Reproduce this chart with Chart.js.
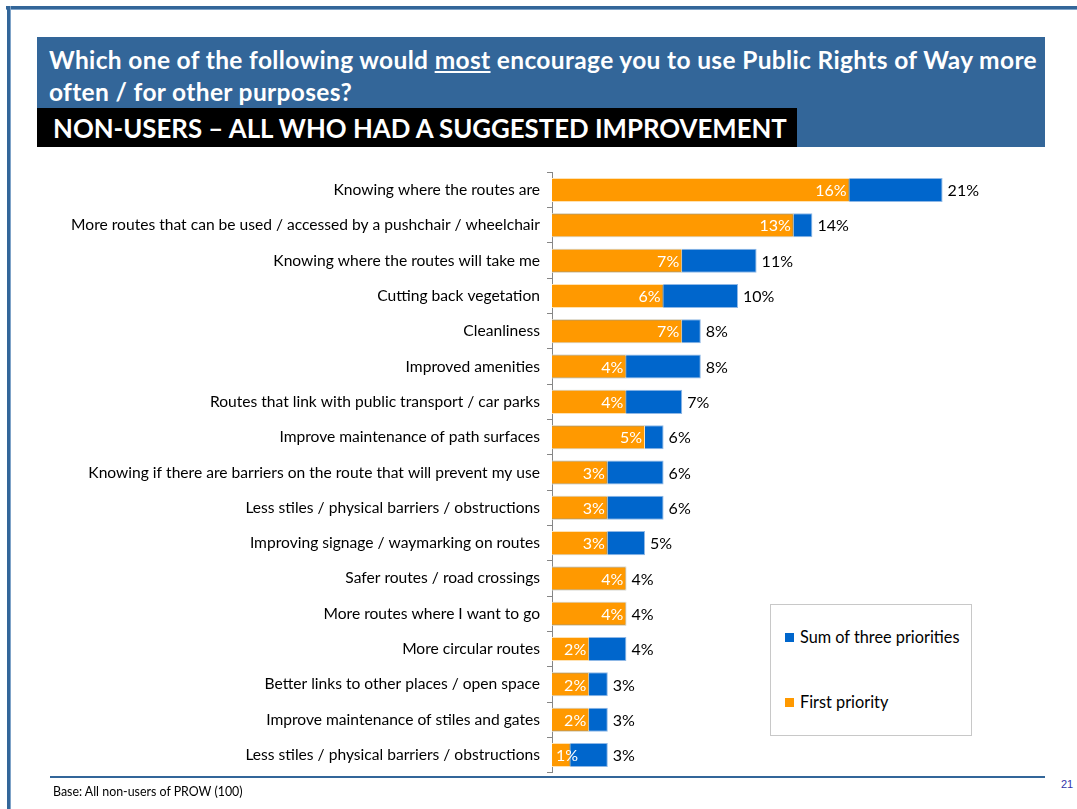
<!DOCTYPE html>
<html>
<head>
<meta charset="utf-8">
<script src="https://cdn.jsdelivr.net/npm/chart.js@4"></script>
<style>
  html, body { margin: 0; padding: 0; background: #fff; }
  body { width: 1077px; height: 809px; position: relative; overflow: hidden; font-family: Lato, "Open Sans", sans-serif; }
  .frameTop { position: absolute; left: 6px; top: 6px; width: 1071px; height: 3px; background: #336699; border-bottom: 1px solid #7fa3c8; }
  .frameLeft { position: absolute; left: 7px; top: 6px; width: 3px; height: 803px; background: #336699; border-right: 1px solid #7fa3c8; }
  .header { position: absolute; left: 37px; top: 37px; width: 1008px; height: 110px; background: #336699; }
  .title { position: absolute; left: 49px; top: 44px; width: 1000px; color: #fff; font-weight: bold; font-size: 24.5px; letter-spacing: 0.35px; line-height: 32px; white-space: nowrap; }
  .sub { position: absolute; left: 37px; top: 108px; width: 760px; height: 39px; background: #000; }
  .subText { position: absolute; left: 53px; top: 109px; color: #fff; font-weight: bold; font-size: 25.8px; line-height: 38px; white-space: nowrap; }
  .bottomLine { position: absolute; left: 50px; top: 776px; width: 995px; height: 2px; background: #336699; }
  .base { position: absolute; left: 53px; top: 784px; font-size: 12.4px; color: #000; }
  .page { position: absolute; left: 1061px; top: 778px; font-size: 11px; color: #3333aa; font-family: Arial, "Liberation Sans", sans-serif; }
  #chartWrap { position: absolute; left: 40px; top: 156px; width: 1000px; height: 633px; }
  .legend { position: absolute; left: 770px; top: 604px; width: 200px; height: 130px; border: 1px solid #c8c8c8; background: #fff; }
  .li { position: absolute; left: 14px; font-size: 16.3px; color: #000; white-space: nowrap; }
  .sw { display: inline-block; width: 9px; height: 9px; margin-right: 6px; vertical-align: 1px; }
</style>
</head>
<body>
<div class="frameTop"></div>
<div class="frameLeft"></div>
<div class="header"></div>
<div class="title">Which one of the following would <u>most</u> encourage you to use Public Rights of Way more<br>often / for other purposes?</div>
<div class="sub"></div>
<div class="subText">NON-USERS – ALL WHO HAD A SUGGESTED IMPROVEMENT</div>
<div id="chartWrap"><canvas id="c" width="1000" height="633"></canvas></div>
<div class="legend">
  <div class="li" style="top:22px;"><span class="sw" style="background:#0066CC"></span>Sum of three priorities</div>
  <div class="li" style="top:87px;"><span class="sw" style="background:#FF9900"></span>First priority</div>
</div>
<div class="bottomLine"></div>
<div class="base">Base: All non-users of PROW (100)</div>
<div class="page">21</div>
<script>
const categories = [
  "Knowing where the routes are",
  "More routes that can be used / accessed by a pushchair / wheelchair",
  "Knowing where the routes will take me",
  "Cutting back vegetation",
  "Cleanliness",
  "Improved amenities",
  "Routes that link with public transport / car parks",
  "Improve maintenance of path surfaces",
  "Knowing if there are barriers on the route that will prevent my use",
  "Less stiles / physical barriers / obstructions",
  "Improving signage / waymarking on routes",
  "Safer routes / road crossings",
  "More routes where I want to go",
  "More circular routes",
  "Better links to other places / open space",
  "Improve maintenance of stiles and gates",
  "Less stiles / physical barriers / obstructions"
];
const sumOfThree = [21, 14, 11, 10, 8, 8, 7, 6, 6, 6, 5, 4, 4, 4, 3, 3, 3];
const firstPriority = [16, 13, 7, 6, 7, 4, 4, 5, 3, 3, 3, 4, 4, 2, 2, 2, 1];
const seriesNames = ["Sum of three priorities", "First priority"];

const labelPlugin = {
  id: 'valueLabels',
  afterDatasetsDraw(chart) {
    const ctx = chart.ctx;
    const xs = chart.scales.x;
    const ys = chart.scales.y;
    ctx.save();
    ctx.font = '16px Lato, "Open Sans", sans-serif';
    ctx.textBaseline = 'middle';
    for (let i = 0; i < categories.length; i++) {
      const y = ys.getPixelForValue(i) + 1;
      const fx = xs.getPixelForValue(firstPriority[i]);
      const ft = firstPriority[i] + '%';
      const fw = ctx.measureText(ft).width;
      let fxr = fx - 3;
      if (fxr - fw < xs.left + 4) fxr = xs.left + 4 + fw;
      ctx.fillStyle = '#ffffff';
      ctx.textAlign = 'right';
      ctx.fillText(ft, fxr, y);
      const sx = xs.getPixelForValue(sumOfThree[i]);
      ctx.fillStyle = '#000000';
      ctx.textAlign = 'left';
      ctx.fillText(sumOfThree[i] + '%', sx + 5, y);
    }
    ctx.restore();
  }
};

new Chart(document.getElementById('c'), {
  type: 'bar',
  data: {
    labels: categories,
    datasets: [
      {
        label: seriesNames[0],
        data: sumOfThree,
        backgroundColor: '#0066CC',
        borderColor: '#8fb8e6',
        borderWidth: 1,
        grouped: false,
        order: 2,
        categoryPercentage: 1,
        barPercentage: 0.68
      },
      {
        label: seriesNames[1],
        data: firstPriority,
        backgroundColor: '#FF9900',
        borderColor: '#ffe2b3',
        borderWidth: 1,
        grouped: false,
        order: 1,
        categoryPercentage: 1,
        barPercentage: 0.68
      }
    ]
  },
  options: {
    indexAxis: 'y',
    responsive: false,
    animation: false,
    devicePixelRatio: 1,
    layout: { padding: { top: 7, bottom: 7, right: 23, left: 0 } },
    plugins: {
      legend: { display: false },
      tooltip: { enabled: false },
      title: { display: false }
    },
    scales: {
      x: {
        display: false,
        min: 0,
        max: 25
      },
      y: {
        afterFit(scale) { scale.width = 512; },
        border: { display: true, color: '#868686', width: 1 },
        grid: { display: true, drawOnChartArea: false, drawTicks: true, tickLength: 5, color: '#868686', offset: true },
        ticks: {
          color: '#000000',
          padding: 7,
          autoSkip: false,
          font: { family: 'Lato, "Open Sans", sans-serif', size: 15.6 }
        }
      }
    }
  },
  plugins: [labelPlugin]
});
</script>
</body>
</html>
